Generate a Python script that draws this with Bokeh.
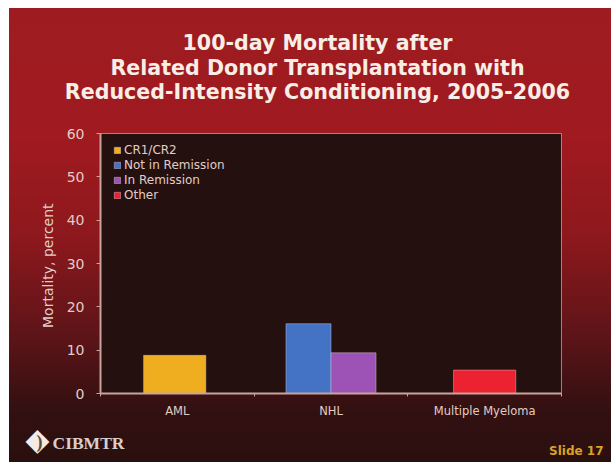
from bokeh.embed import file_html
from bokeh.models import FixedTicker, Label, Legend, LegendItem, LinearAxis, Range1d
from bokeh.plotting import figure
from bokeh.resources import INLINE

categories = ["AML", "NHL", "Multiple Myeloma"]
series_names = ["CR1/CR2", "Not in Remission", "In Remission", "Other"]
cr1_cr2 = [8.8, None, None]
not_in_remission = [None, 16.1, None]
in_remission = [None, 9.4, None]
other = [None, None, 5.4]
series_values = [cr1_cr2, not_in_remission, in_remission, other]
series_colors = ["#efae1f", "#4472c4", "#9d52b5", "#ed2230"]
y_ticks = [0, 10, 20, 30, 40, 50, 60]
title_lines = [
    "100-day Mortality after",
    "Related Donor Transplantation with",
    "Reduced-Intensity Conditioning, 2005-2006",
]

WIDTH, HEIGHT = 611, 462
LEFT, RIGHT, TOP, BOTTOM = 100, 561, 133, 393
TEXT = "#e2cdc6"
AXIS = "#c9a39b"
FONT = "DejaVu Sans"

p = figure(
    width=WIDTH,
    height=HEIGHT,
    output_backend="svg",
    toolbar_location=None,
    x_axis_type=None,
    y_axis_type=None,
    x_range=Range1d(0, len(categories)),
    y_range=Range1d(y_ticks[0], y_ticks[-1]),
    min_border_left=LEFT,
    min_border_right=WIDTH - RIGHT,
    min_border_top=TOP,
    min_border_bottom=HEIGHT - BOTTOM,
    background_fill_color="#251010",
    border_fill_alpha=0,
    outline_line_color=AXIS,
    outline_line_width=1,
    outline_line_alpha=0.75,
)
p.grid.visible = False

# The slide's red-to-dark wash sits behind the transparent figure border.
p.styles = {
    "background-image": (
        "linear-gradient(180deg, #9e1c20 0px, #a01a20 130px, #8c181d 230px, "
        "#5c1418 330px, #331011 400px, #2a0f0f 454px)"
    ),
    "background-position": "9px 8px",
    "background-size": "602px 454px",
    "background-repeat": "no-repeat",
}

x_axis = LinearAxis(
    ticker=FixedTicker(
        ticks=[i + 0.5 for i in range(len(categories))],
        minor_ticks=list(range(len(categories) + 1)),
    ),
    major_label_overrides={i + 0.5: c for i, c in enumerate(categories)},
    major_label_text_color=TEXT,
    major_label_text_font=FONT,
    major_label_text_font_size="11.5px",
    major_label_standoff=4,
    major_tick_line_color=None,
    minor_tick_line_color=AXIS,
    minor_tick_in=0,
    minor_tick_out=3,
    axis_line_color=AXIS,
    axis_line_width=2,
)
p.add_layout(x_axis, "below")

y_axis = LinearAxis(
    ticker=FixedTicker(ticks=y_ticks),
    axis_label="Mortality,  percent",
    axis_label_text_color=TEXT,
    axis_label_text_font=FONT,
    axis_label_text_font_style="normal",
    axis_label_text_font_size="14px",
    axis_label_standoff=8,
    major_label_text_color=TEXT,
    major_label_text_font=FONT,
    major_label_text_font_size="14px",
    major_label_standoff=12,
    major_tick_line_color=AXIS,
    major_tick_in=0,
    major_tick_out=4,
    axis_line_color=AXIS,
    axis_line_width=2,
)
p.add_layout(y_axis, "left")

# Only the bars present in a category share its width.
group_counts = [sum(v[i] is not None for v in series_values) for i in range(len(categories))]
group_nudge = [-0.017, 0, 0]
SINGLE_WIDTH = 0.405
SHARED_WIDTH = 0.293
slots = [0] * len(categories)
legend_items = []
for name, values, color in zip(series_names, series_values, series_colors):
    xs, tops, widths = [], [], []
    for i, v in enumerate(values):
        if v is None:
            continue
        n = group_counts[i]
        w = SINGLE_WIDTH if n == 1 else SHARED_WIDTH
        xs.append(i + 0.5 + group_nudge[i] + (slots[i] - (n - 1) / 2) * w)
        tops.append(v)
        widths.append(w)
        slots[i] += 1
    r = p.vbar(x=xs, top=tops, width=widths, bottom=0, fill_color=color,
               line_color="#d9c3d0", line_alpha=0.45, line_width=1)
    legend_items.append(LegendItem(label=name, renderers=[r]))

legend = Legend(
    items=legend_items,
    location=(8, 186),
    background_fill_alpha=0,
    border_line_alpha=0,
    glyph_width=8,
    glyph_height=8,
    label_height=13,
    label_text_color=TEXT,
    label_text_font=FONT,
    label_text_font_size="12px",
    label_standoff=3,
    spacing=1,
    padding=5,
    margin=0,
)
p.add_layout(legend, "center")


def panel_label(panel, text, x, y, **style):
    """Put a text in an outer panel, positioned in page pixels from the top left."""
    p.add_layout(Label(x=x, y=y, x_units="canvas", y_units="canvas", text=text,
                       text_baseline="middle", **style), panel)


for line, y in zip(title_lines, [42, 67, 91]):
    panel_label("above", line, 317, y, text_align="center", text_color="#f8eee6",
                text_font=FONT, text_font_style="bold", text_font_size="20.6px")

# Each outer panel only has room for some of the footer texts.
panel_label("left", "◆", 37, 438, text_align="center", text_color="#f4ece4",
            text_font=FONT, text_font_size="31px")
panel_label("right", ")", 39, 441, text_align="center", text_color="#5a4a44",
            text_font="Liberation Serif", text_font_style="bold", text_font_size="18px")
panel_label("above", "CIBMTR", 52, 442, text_align="left", text_color="#d8d0c8",
            text_font="Liberation Serif", text_font_style="bold", text_font_size="17.5px")
panel_label("above", "Slide 17", 603, 450, text_align="right", text_color="#d9a126",
            text_font=FONT, text_font_style="bold", text_font_size="12px")

with open("out.html", "w") as f:
    f.write(file_html(p, INLINE))
